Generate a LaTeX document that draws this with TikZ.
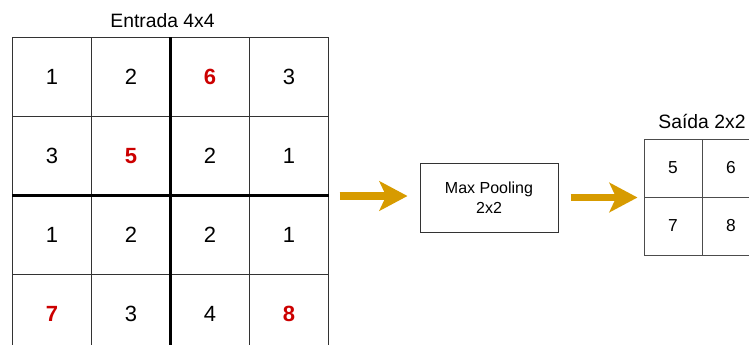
\documentclass[tikz,border=0pt]{standalone}
\usepackage{fontspec}
\setmainfont{Liberation Sans}
\usetikzlibrary{arrows.meta}

\definecolor{maxred}{HTML}{CC0000}
\definecolor{flowgold}{HTML}{D79B00}

\begin{document}
\begin{tikzpicture}[x=0.75pt, y=-0.75pt,
    cell/.style={draw=black!80, line width=0.75pt, minimum size=59.25pt, inner sep=0pt,
      font=\fontsize{16.5}{18}\selectfont},
    small/.style={draw=black!70, line width=0.75pt, minimum size=43.5pt, inner sep=0pt,
      font=\fontsize{13}{15}\selectfont},
    hit/.style={text=maxred, font=\fontsize{16.5}{18}\selectfont\bfseries},
    split/.style={line width=2.25pt, black},
    title/.style={font=\fontsize{14.5}{16}\selectfont},
    pool/.style={draw=black!80, line width=0.75pt, minimum width=103.5pt, minimum height=51.75pt,
      align=center, font=\fontsize{12}{15}\selectfont},
    flow/.style={flowgold, line width=5.5pt, -{Stealth[length=21pt, width=22pt, inset=5pt]}}]

    \clip (0,0) rectangle (749,344);

    \node[title] (in) at (162.5,20.5) {Entrada 4x4};

    \node[cell] (e11) at (52,77) {1};
    \node[cell] (e12) at (131,77) {2};
    \node[cell, hit] (e13) at (210,77) {6};
    \node[cell] (e14) at (289,77) {3};

    \node[cell] (e21) at (52,156) {3};
    \node[cell, hit] (e22) at (131,156) {5};
    \node[cell] (e23) at (210,156) {2};
    \node[cell] (e24) at (289,156) {1};

    \node[cell] (e31) at (52,235) {1};
    \node[cell] (e32) at (131,235) {2};
    \node[cell] (e33) at (210,235) {2};
    \node[cell] (e34) at (289,235) {1};

    \node[cell, hit] (e41) at (52,314) {7};
    \node[cell] (e42) at (131,314) {3};
    \node[cell] (e43) at (210,314) {4};
    \node[cell, hit] (e44) at (289,314) {8};

    \draw[split] (e13.north west) -- (e43.south west);
    \draw[split] (e31.north west) -- (e34.north east);

    \node[pool] (box) at (489,197.5) {Max Pooling\\2x2};

    \node[title] (out) at (702,121) {Saída 2x2};
    \node[small] (s11) at (673,168) {5};
    \node[small] (s12) at (731,168) {6};
    \node[small] (s21) at (673,226) {7};
    \node[small] (s22) at (731,226) {8};

    \draw[flow, shorten <=7.9pt, shorten >=9pt] (e24.south east) -- (box.west |- e24.south east);
    \draw[flow, shorten <=9pt, shorten >=4.5pt] (box.east) -- (s11.south west);

\end{tikzpicture}
\end{document}
